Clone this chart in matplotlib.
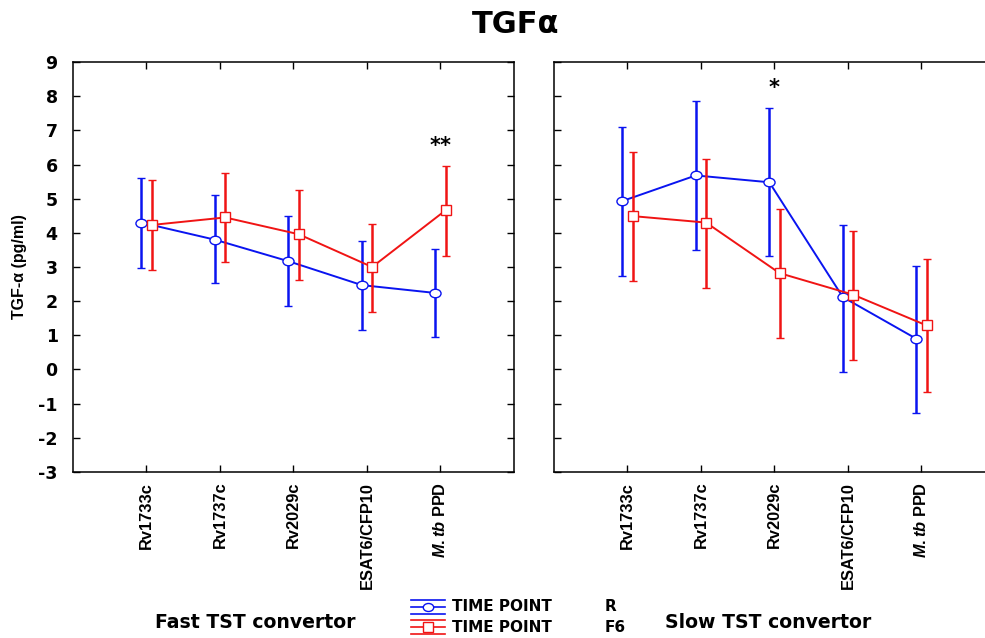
import numpy as np
import matplotlib
matplotlib.use("Agg")
import matplotlib.pyplot as plt
from matplotlib.lines import Line2D
from matplotlib.path import Path
from matplotlib.transforms import Affine2D

plt.rcParams["font.family"] = ["Liberation Sans", "DejaVu Sans"]
plt.rcParams["font.weight"] = "bold"
plt.rcParams["axes.unicode_minus"] = False
plt.rcParams["mathtext.fontset"] = "custom"
plt.rcParams["mathtext.it"] = "Liberation Sans:italic:bold"
plt.rcParams["mathtext.rm"] = "Liberation Sans:bold"

WIDE = ["DejaVu Sans"]

# antigens on the x axis
antigens = ["Rv1733c", "Rv1737c", "Rv2029c", "ESAT6/CFP10", r"$\it{M.tb}$ PPD"]

# Fast TST convertor: mean, lower, upper
fast_r = [4.30, 3.80, 3.17, 2.47, 2.24]
fast_r_lo = [2.98, 2.52, 1.87, 1.16, 0.95]
fast_r_hi = [5.60, 5.12, 4.50, 3.77, 3.53]
fast_f6 = [4.23, 4.45, 3.96, 3.00, 4.66]
fast_f6_lo = [2.92, 3.15, 2.63, 1.68, 3.33]
fast_f6_hi = [5.55, 5.75, 5.26, 4.26, 5.96]

# Slow TST convertor: mean, lower, upper
slow_r = [4.93, 5.68, 5.48, 2.12, 0.90]
slow_r_lo = [2.75, 3.51, 3.33, -0.07, -1.28]
slow_r_hi = [7.09, 7.86, 7.66, 4.24, 3.04]
slow_f6 = [4.49, 4.30, 2.82, 2.19, 1.29]
slow_f6_lo = [2.60, 2.39, 0.92, 0.29, -0.66]
slow_f6_hi = [6.36, 6.16, 4.69, 4.06, 3.22]

# significance marks: (index, label)
fast_sig = (4, "**")
slow_sig = (2, "*")

# circles in the original are a bit stretched sideways
ellipse = Path.unit_circle().transformed(Affine2D().scale(1.3, 1.0))

fig = plt.figure(figsize=(9.85, 6.38), dpi=100)
ax1 = fig.add_axes([0.0741, 0.2602, 0.4477, 0.6426])
ax2 = fig.add_axes([0.5624, 0.2602, 0.4477, 0.6426])

x = np.arange(1, len(antigens) + 1)
off = 0.07
BLUE = "#0a14f0"
RED = "#f01414"


def draw_panel(ax, r, r_lo, r_hi, f6, f6_lo, f6_hi, sig):
    r = np.array(r)
    f6 = np.array(f6)
    ax.errorbar(x - off, r, yerr=[r - np.array(r_lo), np.array(r_hi) - r],
                color=BLUE, lw=1.4, elinewidth=1.8, capsize=2.6, capthick=1.8,
                marker=ellipse, ms=8, mfc="white", mec=BLUE, mew=1.0, zorder=3)
    ax.errorbar(x + off, f6, yerr=[f6 - np.array(f6_lo), np.array(f6_hi) - f6],
                color=RED, lw=1.4, elinewidth=1.8, capsize=2.6, capthick=1.8,
                marker="s", ms=7.5, mfc="white", mec=RED, mew=1.0, zorder=4)
    i, lab = sig
    top = max(r_hi[i], f6_hi[i])
    ax.text(x[i], top + 0.3, lab, ha="center", va="bottom", fontsize=15,
            fontweight="bold", family=WIDE)
    ax.set_xlim(0, 6)
    ax.set_ylim(-3, 9)
    ax.set_yticks(range(-3, 10))
    ax.set_xticks(x)
    ax.set_xticklabels(antigens, rotation=90, fontsize=11.8, fontweight="bold")
    ax.tick_params(direction="in", top=True, right=True, length=5, width=1.0)
    ax.tick_params(axis="x", pad=7)
    for s in ax.spines.values():
        s.set_linewidth(1.1)


draw_panel(ax1, fast_r, fast_r_lo, fast_r_hi, fast_f6, fast_f6_lo, fast_f6_hi, fast_sig)
draw_panel(ax2, slow_r, slow_r_lo, slow_r_hi, slow_f6, slow_f6_lo, slow_f6_hi, slow_sig)

ax1.tick_params(axis="y", labelsize=12.5, pad=11)
for t in ax1.get_yticklabels():
    t.set_fontweight("bold")
    t.set_family(WIDE)
ax2.set_yticklabels([])
ax1.set_ylabel("TGF-α (pg/ml)", fontsize=11.5, fontweight="bold", labelpad=8)

fig.text(0.523, 0.962, "TGFα", ha="center", va="center", fontsize=22,
         fontweight="bold", family=WIDE)

# bottom legend
fig.text(0.157, 0.025, "Fast TST convertor", fontsize=13.6, fontweight="bold",
         va="center", family=WIDE)
fig.text(0.675, 0.025, "Slow TST convertor", fontsize=13.6, fontweight="bold",
         va="center", family=WIDE)
leg = [(0.049, BLUE, ellipse, "R"), (0.017, RED, "s", "F6")]
for yy, col, mk, name in leg:
    x0, x1 = 0.417, 0.452
    for dy in (-0.011, 0.0, 0.011):
        fig.add_artist(Line2D([x0, x1], [yy + dy, yy + dy], color=col, lw=1.2,
                              transform=fig.transFigure))
    fig.add_artist(Line2D([(x0 + x1) / 2], [yy], marker=mk, ms=7.5, mfc="white",
                          mec=col, mew=1.0, color=col, transform=fig.transFigure))
    fig.text(0.459, yy, "TIME POINT", fontsize=11, fontweight="bold", va="center",
             family=WIDE)
    fig.text(0.614, yy, name, fontsize=11, fontweight="bold", va="center",
             family=WIDE)

fig.savefig("out.png", dpi=100)
